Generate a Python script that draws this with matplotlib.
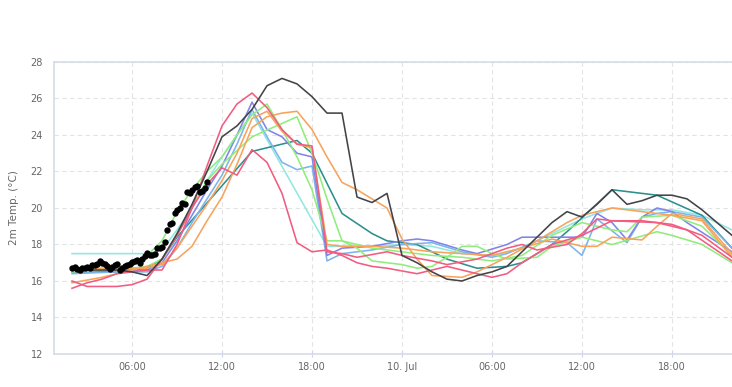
import matplotlib.pyplot as plt

# hours counted from 9 Jul 00:00
tick_hours = [6, 12, 18, 24, 30, 36, 42]
tick_labels = ["06:00", "12:00", "18:00", "10. Jul", "06:00", "12:00", "18:00"]

# observations, every 10 minutes from 02:00 to 11:00
obs_start = 2.0
obs_temp = [16.7, 16.75, 16.65, 16.6, 16.7, 16.7, 16.75, 16.7, 16.85, 16.9,
            16.95, 17.1, 17.0, 16.95, 16.8, 16.65, 16.75, 16.9, 16.95, 16.6,
            16.7, 16.8, 16.85, 16.95, 17.05, 17.1, 17.15, 17.0, 17.2, 17.35,
            17.55, 17.45, 17.4, 17.5, 17.8, 17.8, 17.85, 18.15, 18.8, 19.1,
            19.2, 19.7, 19.9, 20.0, 20.25, 20.2, 20.9, 20.8, 21.0, 21.15,
            21.2, 20.85, 20.95, 21.1, 21.4]

# forecast members: (colour, hours, temperatures)
dark_h = [2, 5, 6, 7, 8, 9, 10, 11, 12, 13, 14, 15, 16, 17, 18, 19, 20, 21, 22, 23,
          24, 25, 26, 27, 28, 29, 30, 31, 32, 33, 34, 35, 36, 37, 38, 39, 40, 41,
          42, 43, 44, 45, 46]
dark_t = [16.6, 16.6, 16.5, 16.3, 17.2, 18.6, 20.2, 22.0, 23.9, 24.5, 25.4, 26.7,
          27.1, 26.8, 26.1, 25.2, 25.2, 20.6, 20.3, 20.8, 17.4, 17.0, 16.5, 16.1,
          16.0, 16.3, 16.5, 16.8, 17.6, 18.4, 19.2, 19.8, 19.5, 20.2, 21.0, 20.2,
          20.4, 20.7, 20.7, 20.5, 19.9, 19.2, 18.5]

orange_a_h = [2, 4, 6, 7, 8, 9, 10, 11, 12, 13, 14, 15, 16, 17, 18, 19, 20, 21, 22,
              23, 24, 25, 26, 28, 29, 31, 33, 35, 36, 38, 40, 42, 44, 46]
orange_a_t = [15.9, 16.2, 16.6, 16.8, 17.0, 17.2, 17.9, 19.3, 20.6, 22.4, 24.4,
              25.0, 25.2, 25.3, 24.3, 22.8, 21.4, 21.0, 20.5, 20.0, 18.3, 17.2,
              16.3, 16.2, 16.5, 17.3, 18.2, 19.2, 19.6, 20.0, 19.8, 19.6, 19.3, 17.3]

orange_b_h = [2, 5, 7, 8, 9, 10, 11, 12, 13, 14, 15, 16, 17, 18, 19, 20, 22, 24,
              26, 28, 30, 32, 34, 36, 37, 38, 40, 41, 42, 44, 46]
orange_b_t = [16.7, 16.7, 16.7, 16.9, 17.8, 19.0, 20.2, 21.5, 23.0, 24.9, 25.3,
              24.2, 23.5, 23.3, 18.0, 17.9, 17.9, 17.8, 17.6, 17.5, 17.4, 17.8,
              18.3, 17.9, 17.9, 18.4, 18.25, 19.0, 19.7, 19.4, 17.5]

green_a_h = [2, 4, 6, 7, 8, 9, 10, 11, 12, 13, 14, 15, 16, 17, 18, 19, 20, 21, 22,
             24, 25, 26, 27, 28, 29, 30, 31, 33, 34, 36, 38, 41, 42, 44, 46]
green_a_t = [16.5, 16.6, 16.8, 17.4, 18.2, 19.8, 21.0, 22.0, 22.8, 24.0, 25.1,
             25.7, 24.3, 22.8, 21.0, 18.2, 18.2, 17.8, 17.1, 16.9, 16.7, 16.8,
             17.3, 17.9, 17.9, 17.5, 17.2, 17.3, 17.9, 18.4, 18.0, 18.7, 18.5,
             18.0, 17.0]

green_b_h = [2, 6, 7, 8, 9, 10, 11, 12, 14, 17, 18, 19, 20, 22, 24, 26, 28, 30, 32,
             34, 36, 38, 39, 40, 42, 44, 46]
green_b_t = [16.6, 16.7, 16.8, 17.2, 18.5, 20.0, 21.5, 22.4, 23.9, 25.0, 23.0,
             20.5, 18.2, 17.8, 17.6, 17.4, 17.3, 17.1, 17.4, 18.5, 19.2, 18.8,
             18.7, 19.5, 19.6, 19.0, 17.4]

blue_h = [2, 5, 7, 8, 9, 10, 11, 12, 13, 14, 15, 16, 17, 18, 19, 20, 21, 22, 24,
          26, 28, 30, 31, 33, 35, 36, 37, 39, 40, 41, 42, 44, 46]
blue_t = [16.4, 16.5, 16.5, 16.8, 17.8, 19.2, 20.5, 21.8, 23.5, 25.4, 23.9, 22.5,
          22.1, 22.3, 17.1, 17.5, 17.6, 17.7, 18.0, 18.1, 17.6, 17.3, 17.5, 18.2,
          18.1, 17.4, 19.4, 18.1, 19.5, 19.7, 19.8, 19.5, 17.8]

purple_h = [2, 5, 7, 8, 9, 10, 11, 12, 13, 14, 15, 16, 17, 18, 19, 20, 22, 24, 25,
            26, 28, 29, 31, 32, 34, 36, 37, 38, 39, 40, 41, 42, 43, 46]
purple_t = [16.5, 16.6, 16.6, 17.0, 18.2, 19.6, 21.0, 22.3, 24.0, 25.8, 24.3,
            23.9, 23.0, 22.8, 17.4, 17.8, 17.9, 18.2, 18.3, 18.2, 17.7, 17.5,
            18.0, 18.4, 18.4, 18.4, 19.7, 19.2, 18.25, 19.5, 20.0, 19.8, 19.2, 17.6]

pink_a_h = [2, 3, 4, 5, 6, 7, 8, 9, 10, 11, 12, 13, 14, 15, 16, 17, 18, 19, 20, 21,
            23, 24, 26, 27, 29, 31, 32, 33, 35, 36, 37, 38, 41, 43, 46]
pink_a_t = [15.6, 15.9, 16.1, 16.4, 16.5, 16.6, 16.6, 18.0, 20.0, 22.3, 24.5,
            25.7, 26.3, 25.5, 24.3, 23.5, 23.4, 17.6, 17.5, 17.3, 17.6, 17.4,
            17.1, 16.9, 17.2, 17.8, 18.0, 17.7, 18.0, 18.6, 19.4, 19.3, 19.2,
            18.8, 17.1]

pink_b_h = [2, 3, 5, 6, 7, 8, 9, 10, 11, 12, 13, 14, 15, 16, 17, 18, 19, 20, 21, 22,
            23, 25, 27, 29, 30, 31, 32, 34, 36, 38, 40, 42, 44, 46]
pink_b_t = [16.0, 15.7, 15.7, 15.8, 16.1, 17.2, 18.5, 20.0, 21.3, 22.2, 21.8, 23.2,
            22.5, 20.8, 18.1, 17.6, 17.7, 17.4, 17.0, 16.8, 16.7, 16.4, 16.8, 16.4,
            16.2, 16.4, 17.0, 18.0, 18.5, 19.3, 19.3, 19.1, 18.5, 17.3]

teal_h = [2, 5, 7, 8, 9, 14, 17, 18, 20, 22, 23, 25, 27, 29, 31, 32, 34, 35, 38, 41,
          44, 46]
teal_t = [16.5, 16.5, 16.7, 17.2, 18.4, 23.1, 23.7, 23.0, 19.7, 18.6, 18.2, 18.0,
          17.2, 16.7, 16.8, 17.0, 18.0, 18.7, 21.0, 20.7, 19.6, 17.8]

cyan_h = [2, 7, 8, 9, 10, 11, 12, 13, 14, 19, 20, 22, 24, 26, 28, 30, 32, 34, 36,
          38, 40, 42, 44, 46]
cyan_t = [17.5, 17.5, 17.7, 18.8, 20.0, 21.5, 22.8, 24.0, 25.2, 17.9, 17.9, 17.9,
          18.0, 17.9, 17.5, 17.4, 17.8, 18.6, 19.4, 20.0, 19.9, 19.9, 19.6, 18.8]

members = [
    ("#91e8e1", cyan_h, cyan_t),
    ("#2b908f", teal_h, teal_t),
    ("#7cb5ec", blue_h, blue_t),
    ("#8085e9", purple_h, purple_t),
    ("#90ed7d", green_a_h, green_a_t),
    ("#90ed7d", green_b_h, green_b_t),
    ("#f7a35c", orange_a_h, orange_a_t),
    ("#f7a35c", orange_b_h, orange_b_t),
    ("#f15c80", pink_a_h, pink_a_t),
    ("#f15c80", pink_b_h, pink_b_t),
    ("#434348", dark_h, dark_t),
]

fig = plt.figure(figsize=(7.32, 3.87), dpi=100)
ax = fig.add_axes([0.0738, 0.0853, 0.9262, 0.7545])

for color, hours, temps in members:
    ax.plot(hours, temps, color=color, lw=1.15, zorder=2)

obs_hours = [obs_start + i / 6 for i in range(len(obs_temp))]
ax.scatter(obs_hours, obs_temp, s=21, color="black", zorder=5, linewidths=0)

ax.set_xlim(0.8, 46)
ax.set_ylim(12, 28)
ax.set_yticks(range(12, 29, 2))
ax.set_xticks(tick_hours)
ax.set_xticklabels(tick_labels)

ax.grid(True, color="#e3e3e3", ls=(0, (4, 3)), lw=0.8)
ax.set_axisbelow(True)
for side in ["left", "bottom", "top"]:
    ax.spines[side].set_color("#d6dbe6")
    ax.spines[side].set_linewidth(1.2)
ax.spines["right"].set_visible(False)

ax.tick_params(axis="y", length=0, pad=8, labelsize=7, labelcolor="#666666")
ax.tick_params(axis="x", length=5, direction="inout", color="#ccd6eb", pad=3,
               labelsize=7, labelcolor="#666666")
ax.set_ylabel("2m Temp. (°C)", fontsize=7.5, color="#666666", labelpad=8)

fig.savefig("out.png", dpi=100)
